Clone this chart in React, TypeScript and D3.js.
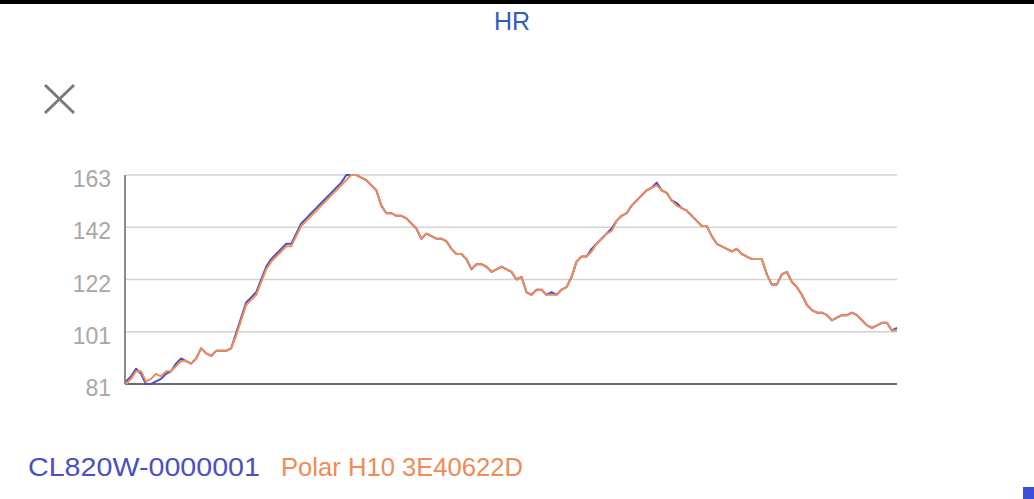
import React from "react";
import * as d3 from "d3";

const title = "HR";
const seriesNames = ["CL820W-0000001", "Polar H10 3E40622D"];
const seriesColors = ["#4a4fc4", "#f08c55"];
const yTickValues = [81, 101.5, 122, 142.5, 163];
const yTickLabels = ["81", "101", "122", "142", "163"];

// Heart-rate samples (equal time steps)
const cl820w = [
  82, 84, 87, 85, 81, 81, 82, 83, 85, 86, 89, 91, 90, 89, 91, 95, 93, 92, 94, 94,
  94, 95, 101, 107, 113, 115, 117, 122, 127, 130, 132, 134, 136, 136, 140, 144, 146, 148, 150, 152,
  154, 156, 158, 160, 163, 163, 163, 162, 161, 159, 157, 151, 148, 148, 147, 147, 146, 144, 142, 138,
  140, 139, 138, 138, 137, 134, 132, 132, 130, 126, 128, 128, 127, 125, 126, 127, 126, 125, 122, 123,
  117, 116, 118, 118, 116, 117, 116, 118, 119, 123, 129, 131, 131, 134, 136, 138, 140, 142, 145, 147,
  148, 151, 153, 155, 157, 158, 160, 157, 156, 153, 152, 150, 149, 147, 145, 143, 143, 139, 136, 135,
  134, 133, 134, 132, 131, 130, 130, 130, 124, 120, 120, 124, 125, 121, 119, 116, 112, 110, 109, 109,
  108, 106, 107, 108, 108, 109, 108, 106, 104, 103, 104, 105, 105, 102, 103,
];
const polarH10 = [
  81, 83, 86, 86, 82, 83, 85, 84, 86, 86, 88, 90, 90, 89, 91, 95, 93, 92, 94, 94,
  94, 95, 100, 106, 112, 114, 116, 121, 126, 129, 131, 133, 135, 135, 139, 143, 145, 147, 149, 151,
  153, 155, 157, 159, 161, 163, 163, 162, 161, 159, 157, 151, 148, 148, 147, 147, 146, 144, 142, 138,
  140, 139, 138, 138, 137, 134, 132, 132, 130, 126, 128, 128, 127, 125, 126, 127, 126, 125, 122, 123,
  117, 116, 118, 118, 116, 116, 116, 118, 119, 123, 129, 131, 131, 133, 136, 138, 140, 141, 145, 147,
  148, 151, 153, 155, 157, 158, 159, 157, 156, 153, 151, 150, 149, 147, 145, 143, 143, 139, 136, 135,
  134, 133, 134, 132, 131, 130, 130, 130, 124, 120, 120, 124, 125, 121, 119, 116, 112, 110, 109, 109,
  108, 106, 107, 108, 108, 109, 108, 106, 104, 103, 104, 105, 105, 102, 102,
];

const plotLeft = 126;
const plotRight = 897;
const plotTop = 175;
const plotBottom = 384;

export default function App() {
  const x = d3.scaleLinear().domain([0, polarH10.length - 1]).range([plotLeft, plotRight]);
  const y = d3.scaleLinear().domain([81, 163]).range([plotBottom, plotTop]);
  const line = d3
    .line<number>()
    .x((_, i) => x(i))
    .y((d) => y(d))
    .curve(d3.curveLinear);

  const font = "'Liberation Sans', Arial, sans-serif";

  return (
    <svg
      width={1034}
      height={499}
      style={{ position: "absolute", left: 0, top: 0, background: "#fff" }}
    >
      <rect x={0} y={0} width={1034} height={4} fill="#000" />
      <text
        x={512}
        y={30}
        textAnchor="middle"
        fontFamily={font}
        fontSize={25}
        fill="#2f5dbe"
      >
        {title}
      </text>

      {/* close icon */}
      <g stroke="#7a7a7a" strokeWidth={3} strokeLinecap="butt">
        <line x1={45} y1={85} x2={74} y2={113} />
        <line x1={74} y1={85} x2={45} y2={113} />
      </g>

      {/* grid */}
      {yTickValues.slice(1).map((v) => (
        <line
          key={v}
          x1={plotLeft}
          x2={plotRight}
          y1={y(v)}
          y2={y(v)}
          stroke="#d4d4d4"
          strokeWidth={1.5}
        />
      ))}
      {yTickValues.map((v, i) => (
        <text
          key={"l" + v}
          x={111}
          y={y(v) + 12}
          textAnchor="end"
          fontFamily={font}
          fontSize={23}
          fill="#a8a8a8"
        >
          {yTickLabels[i]}
        </text>
      ))}
      <line x1={plotLeft - 1} x2={plotLeft - 1} y1={plotTop} y2={plotBottom} stroke="#8c8c8c" strokeWidth={2} />
      <line x1={plotLeft - 1} x2={plotRight} y1={plotBottom} y2={plotBottom} stroke="#6e6e6e" strokeWidth={2} />

      <path d={line(cl820w) || ""} fill="none" stroke={seriesColors[0]} strokeWidth={2} strokeLinejoin="round" />
      <path d={line(polarH10) || ""} fill="none" stroke={seriesColors[1]} strokeWidth={2} strokeLinejoin="round" />

      {/* legend */}
      <text x={28} y={476} fontFamily={font} fontSize={26} fill={seriesColors[0]} textLength={232} lengthAdjust="spacingAndGlyphs">
        {seriesNames[0]}
      </text>
      <text x={281} y={476} fontFamily={font} fontSize={26} fill={seriesColors[1]} textLength={242} lengthAdjust="spacingAndGlyphs">
        {seriesNames[1]}
      </text>

      <rect x={1023} y={487} width={11} height={12} fill="#3a4fd6" />
    </svg>
  );
}
